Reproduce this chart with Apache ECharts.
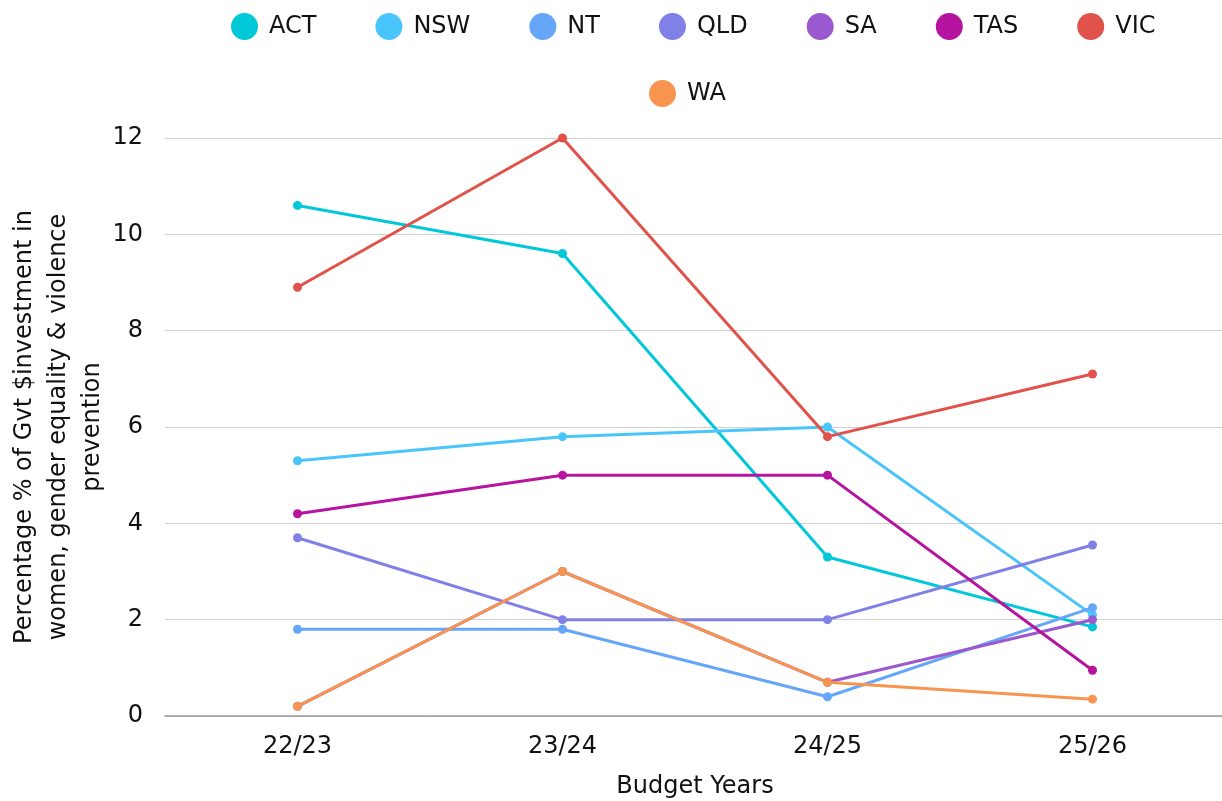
<!DOCTYPE html>
<html><head><meta charset="utf-8">
<script src="https://cdn.jsdelivr.net/npm/echarts@6/dist/echarts.min.js"></script>
<style>html,body{margin:0;padding:0;background:#fff}#c{width:1222px;height:801px}</style>
</head><body><div id="c"></div>
<script>
const categories = ['22/23', '23/24', '24/25', '25/26'];
const seriesNames = ['ACT', 'NSW', 'NT', 'QLD', 'SA', 'TAS', 'VIC', 'WA'];
const ACT = [10.6, 9.6, 3.3, 1.85];
const NSW = [5.3, 5.8, 6.0, 2.1];
const NT = [1.8, 1.8, 0.4, 2.25];
const QLD = [3.7, 2.0, 2.0, 3.55];
const SA = [0.2, 3.0, 0.7, 2.0];
const TAS = [4.2, 5.0, 5.0, 0.95];
const VIC = [8.9, 12.0, 5.8, 7.1];
const WA = [0.2, 3.0, 0.7, 0.35];
const yTicks = [0, 2, 4, 6, 8, 10, 12];
const colors = ['#00c8d8', '#4ac5fb', '#66a6f9', '#8080e6', '#9b59d0', '#b6139e', '#e0524a', '#f7944f'];
const values = [ACT, NSW, NT, QLD, SA, TAS, VIC, WA];

const FONT = 'DejaVu Sans';
const FS = 24;
const chart = echarts.init(document.getElementById('c'), null, {renderer: 'canvas'});
const legendCommon = {
  icon: 'circle', itemWidth: 27, itemHeight: 27, itemGap: 59,
  textStyle: {fontFamily: FONT, fontSize: FS, color: '#111', padding: [0, 0, 0, 6]}
};
chart.setOption({
  color: colors,
  animation: false,
  legend: [
    Object.assign({}, legendCommon, {top: 8, left: 226, data: seriesNames.slice(0, 7)}),
    Object.assign({}, legendCommon, {top: 75, left: 644, data: seriesNames.slice(7)})
  ],
  grid: {left: 165, right: -3, top: 138, bottom: 85, outerBoundsMode: 'none', containLabel: false},
  xAxis: {
    type: 'category', data: categories, boundaryGap: true,
    name: 'Budget Years', nameLocation: 'middle', nameGap: 59,
    nameTextStyle: {fontFamily: FONT, fontSize: FS, color: '#111'},
    axisLine: {lineStyle: {color: '#999', width: 1.5}},
    axisTick: {show: false},
    axisLabel: {fontFamily: FONT, fontSize: FS, color: '#111', margin: 19}
  },
  yAxis: {
    type: 'value', min: yTicks[0], max: yTicks[yTicks.length - 1], interval: 2,
    name: 'Percentage % of Gvt $investment in\nwomen, gender equality & violence\nprevention',
    nameLocation: 'middle', nameGap: 55, nameMoveOverlap: false,
    nameTextStyle: {fontFamily: FONT, fontSize: FS, color: '#111', lineHeight: 34},
    axisLine: {show: false}, axisTick: {show: false},
    splitLine: {lineStyle: {color: '#d0d0d0', width: 1}},
    axisLabel: {fontFamily: FONT, fontSize: FS, color: '#111', margin: 22}
  },
  series: seriesNames.map((n, i) => ({
    name: n, type: 'line', data: values[i],
    symbol: 'circle', symbolSize: 9, showSymbol: true,
    lineStyle: {width: 3}, itemStyle: {color: colors[i]}
  }))
});
</script></body></html>
